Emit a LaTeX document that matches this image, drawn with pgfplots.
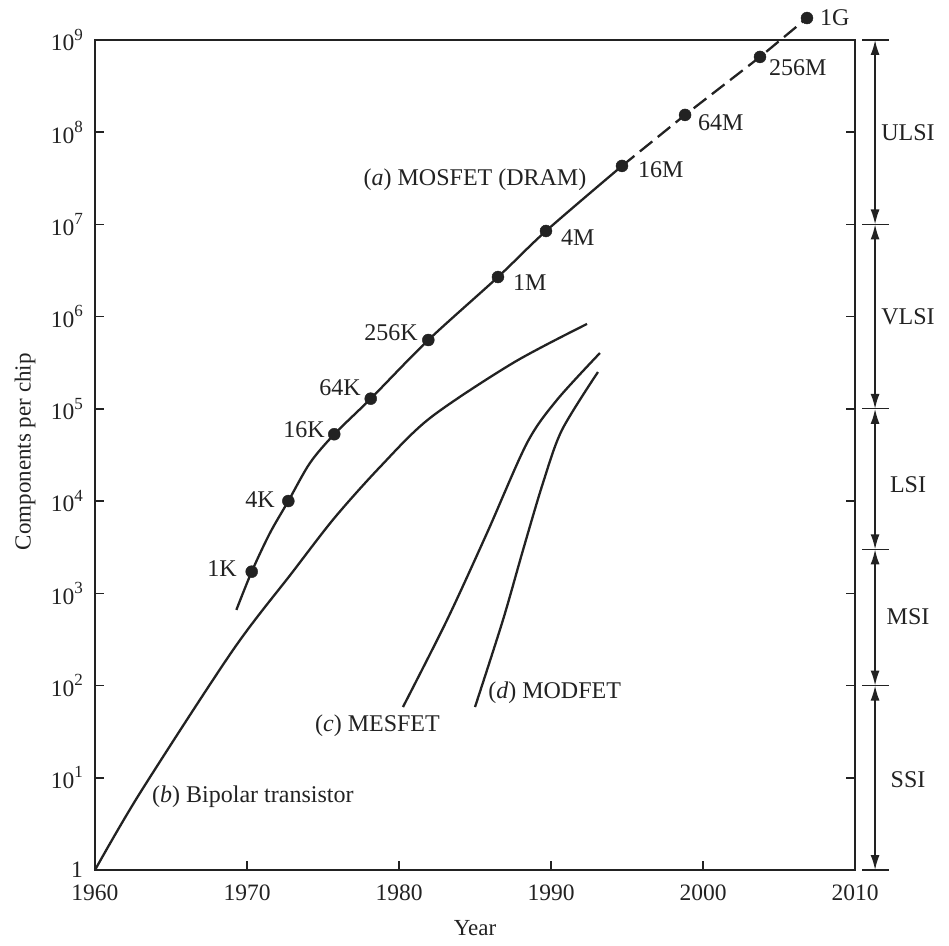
\documentclass[border=0pt]{standalone}
\usepackage{fontspec}
\setmainfont{Liberation Serif}
\usepackage{pgfplots}
\pgfplotsset{compat=1.18}
\usetikzlibrary{arrows.meta}
\definecolor{ink}{RGB}{34,34,34}
\newcommand{\sups}[1]{\raisebox{0.45em}{\fontsize{17}{17}\selectfont #1}}
\tikzset{lbl/.style={font=\fontsize{24}{28}\selectfont, text=ink, inner sep=0pt},
  dbl/.style={ink, line width=1.6pt, {Latex[length=15pt,width=9pt]}-{Latex[length=15pt,width=9pt]}}}
\begin{document}
\fontsize{24}{28}\selectfont
\begin{tikzpicture}
\useasboundingbox (-95pt,-75pt) rectangle (854pt,870pt);
\begin{axis}[
  at={(0pt,0pt)}, anchor=south west,
  scale only axis, width=760pt, height=830pt,
  xmin=1960, xmax=2010, ymode=log, ymin=1, ymax=1e9,
  clip=false,
  axis line style={ink, line width=1.7pt},
  xtick={1960,1970,1980,1990,2000,2010},
  xticklabels={1960,1970,1980,1990,2000,2010},
  xtick pos=left,
  ytick={1,10,100,1000,1e4,1e5,1e6,1e7,1e8,1e9},
  yticklabels={1,10\sups{1},10\sups{2},10\sups{3},10\sups{4},10\sups{5},10\sups{6},10\sups{7},10\sups{8},10\sups{9}},
  yminorticks=false, xminorticks=false,
  major tick length=9pt,
  tick style={ink, line width=1.5pt},
  tick label style={font=\fontsize{23.5}{27}\selectfont, text=ink},
  xticklabel style={yshift=-7pt},
  yticklabel style={xshift=-4pt},
  xlabel={Year}, ylabel={Components per chip},
  label style={font=\fontsize{23}{27}\selectfont, text=ink},
  xlabel style={at={(axis description cs:0.5,0)}, anchor=center, yshift=-58pt},
  ylabel style={at={(axis description cs:-0.092,0.504)}, anchor=center},
]
% (b) Bipolar transistor
\addplot[ink, line width=2.3pt, smooth, tension=0.5] coordinates {
 (1960,1) (1962.96,6.84) (1969.08,243) (1972.95,1663)
 (1975.75,6561) (1978.75,23440) (1982.04,79620) (1987.50,314800) (1992.37,833700)};
% (c) MESFET
\addplot[ink, line width=2.3pt, smooth, tension=0.5] coordinates {
 (1980.26,58.5) (1983.16,514) (1985.79,4508) (1988.42,42660) (1990.39,125000) (1993.22,403600)};
% (d) MODFET
\addplot[ink, line width=2.3pt, smooth, tension=0.5] coordinates {
 (1985.0,58.5) (1986.84,514) (1988.16,2951) (1989.47,15700) (1990.72,59020) (1993.09,251200)};
% (a) MOSFET solid part
\addplot[ink, line width=2.3pt, smooth, tension=0.5] coordinates {
 (1969.3,661) (1970.31,1718) (1971.51,4508) (1972.72,10020) (1974.14,25880)
 (1975.74,53090) (1978.14,129100) (1981.93,558500) (1986.51,2.69e6)
 (1989.67,8.49e6) (1994.67,4.31e7)};
% (a) MOSFET projected part
\addplot[ink, line width=2.3pt, dash pattern=on 16pt off 7pt] coordinates {
 (1994.67,4.31e7) (1998.82,1.54e8) (2003.75,6.55e8) (2006.84,1.73e9)};
% DRAM generations
\addplot[only marks, mark=*, mark size=6pt, ink] coordinates {
 (1970.31,1718) (1972.72,10020) (1975.74,53090) (1978.14,129100) (1981.93,558500)
 (1986.51,2.69e6) (1989.67,8.49e6) (1994.67,4.31e7) (1998.82,1.54e8)
 (2003.75,6.55e8) (2006.84,1.73e9)};
% point labels
\node[lbl, anchor=east] at (axis cs:1969.34,1837) {1K};
\node[lbl, anchor=east] at (axis cs:1971.84,10280) {4K};
\node[lbl, anchor=east] at (axis cs:1975.13,59020) {16K};
\node[lbl, anchor=east] at (axis cs:1977.5,168700) {64K};
\node[lbl, anchor=east] at (axis cs:1981.25,665300) {256K};
\node[lbl, anchor=west] at (axis cs:1987.5,2.317e6) {1M};
\node[lbl, anchor=west] at (axis cs:1990.66,7.29e6) {4M};
\node[lbl, anchor=west] at (axis cs:1995.72,3.89e7) {16M};
\node[lbl, anchor=west] at (axis cs:1999.67,1.259e8) {64M};
\node[lbl, anchor=west] at (axis cs:2004.34,4.98e8) {256M};
\node[lbl, anchor=west] at (axis cs:2007.7,1.734e9) {1G};
% curve labels
\node[lbl, anchor=center] at (axis cs:1985.0,3.03e7) {(\textit{a}) MOSFET (DRAM)};
\node[lbl, anchor=west] at (axis cs:1963.75,6.19) {(\textit{b}) Bipolar transistor};
\node[lbl, anchor=west] at (axis cs:1974.47,36.4) {(\textit{c}) MESFET};
\node[lbl, anchor=west] at (axis cs:1985.86,83) {(\textit{d}) MODFET};
% integration levels
\draw[ink, line width=1.2pt] (axis cs:2010.46,1e9) -- (axis cs:2012.24,1e9);
\draw[ink, line width=1.2pt] (axis cs:2010.46,1e7) -- (axis cs:2012.24,1e7);
\draw[ink, line width=1.2pt] (axis cs:2010.46,1e5) -- (axis cs:2012.24,1e5);
\draw[ink, line width=1.2pt] (axis cs:2010.46,3000) -- (axis cs:2012.24,3000);
\draw[ink, line width=1.2pt] (axis cs:2010.46,100) -- (axis cs:2012.24,100);
\draw[ink, line width=1.2pt] (axis cs:2010.46,1) -- (axis cs:2012.24,1);
\draw[dbl] (axis cs:2011.32,1e9) -- (axis cs:2011.32,1e7);
\draw[dbl] (axis cs:2011.32,1e7) -- (axis cs:2011.32,1e5);
\draw[dbl] (axis cs:2011.32,1e5) -- (axis cs:2011.32,3000);
\draw[dbl] (axis cs:2011.32,3000) -- (axis cs:2011.32,100);
\draw[dbl] (axis cs:2011.32,100) -- (axis cs:2011.32,1);
\node[lbl, anchor=center] at (axis cs:2013.49,1e8) {ULSI};
\node[lbl, anchor=center] at (axis cs:2013.49,1e6) {VLSI};
\node[lbl, anchor=center] at (axis cs:2013.49,1.5e4) {LSI};
\node[lbl, anchor=center] at (axis cs:2013.49,553) {MSI};
\node[lbl, anchor=center] at (axis cs:2013.49,9.5) {SSI};
\end{axis}
\end{tikzpicture}
\end{document}
